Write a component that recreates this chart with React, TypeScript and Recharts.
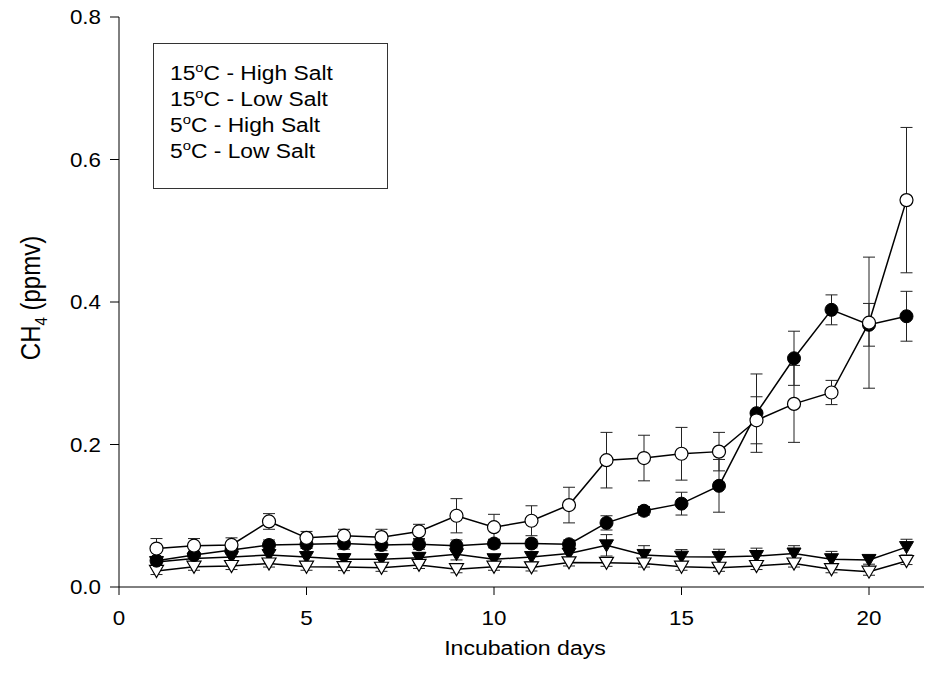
import { ErrorBar, Legend, Line, LineChart, XAxis, YAxis } from 'recharts'

const FONT = '"Liberation Sans", Arial, sans-serif'
const SX = 1.12 // the reference text is a little wider than plain Arial

const days = [1, 2, 3, 4, 5, 6, 7, 8, 9, 10, 11, 12, 13, 14, 15, 16, 17, 18, 19, 20, 21]

// 15°C - High Salt (filled circles)
const hot_high = [0.037, 0.045, 0.052, 0.059, 0.060, 0.061, 0.059, 0.060, 0.058, 0.061, 0.061, 0.060, 0.090, 0.107, 0.117, 0.142, 0.244, 0.321, 0.389, 0.368, 0.380]
const hot_high_err = [0.006, 0.005, 0.006, 0.007, 0.006, 0.008, 0.008, 0.007, 0.008, 0.006, 0.006, 0.006, 0.010, 0.006, 0.016, 0.037, 0.055, 0.038, 0.021, 0.030, 0.035]

// 15°C - Low Salt (open circles)
const hot_low = [0.054, 0.058, 0.059, 0.092, 0.069, 0.072, 0.070, 0.078, 0.100, 0.084, 0.093, 0.115, 0.178, 0.181, 0.187, 0.190, 0.234, 0.257, 0.273, 0.371, 0.543]
const hot_low_err = [0.014, 0.010, 0.010, 0.011, 0.009, 0.009, 0.011, 0.010, 0.024, 0.018, 0.021, 0.025, 0.039, 0.032, 0.037, 0.027, 0.033, 0.054, 0.017, 0.092, 0.102]

// 5°C - High Salt (filled triangles)
const cold_high = [0.035, 0.040, 0.042, 0.045, 0.042, 0.039, 0.039, 0.041, 0.046, 0.039, 0.042, 0.047, 0.0585, 0.045, 0.0425, 0.042, 0.0435, 0.047, 0.039, 0.038, 0.056]
const cold_high_err = [0.006, 0.006, 0.006, 0.006, 0.007, 0.008, 0.008, 0.007, 0.008, 0.006, 0.007, 0.007, 0.015, 0.013, 0.010, 0.011, 0.011, 0.011, 0.011, 0.006, 0.011]

// 5°C - Low Salt (open triangles)
const cold_low = [0.0225, 0.0285, 0.0295, 0.033, 0.0285, 0.028, 0.027, 0.031, 0.025, 0.0285, 0.0275, 0.0345, 0.034, 0.033, 0.0285, 0.027, 0.0295, 0.033, 0.025, 0.0215, 0.0365]
const cold_low_err = [0.005, 0.005, 0.005, 0.005, 0.005, 0.005, 0.005, 0.005, 0.005, 0.005, 0.005, 0.005, 0.005, 0.005, 0.005, 0.005, 0.005, 0.005, 0.005, 0.005, 0.005]

const legendTemps = ['15', '15', '5', '5']
const legendSalts = ['High Salt', 'Low Salt', 'High Salt', 'Low Salt']

const xTicks = [0, 5, 10, 15, 20]
const yTicks = [0, 0.2, 0.4, 0.6, 0.8]

const data = days.map((d, i) => ({
  day: d,
  hh: hot_high[i], hhErr: hot_high_err[i],
  hl: hot_low[i], hlErr: hot_low_err[i],
  ch: cold_high[i], chErr: cold_high_err[i],
  cl: cold_low[i], clErr: cold_low_err[i],
}))

const tri = (cx: number, cy: number) => `M${cx - 7},${cy - 5.5}L${cx + 7},${cy - 5.5}L${cx},${cy + 6.5}Z`

const FilledCircle = (p: any) => <circle key={`fc-${p.index}`} cx={p.cx} cy={p.cy} r={6.5} fill="#000" stroke="#000" strokeWidth={1} />
const OpenCircle = (p: any) => <circle key={`oc-${p.index}`} cx={p.cx} cy={p.cy} r={6.5} fill="#fff" stroke="#000" strokeWidth={1.2} />
const FilledTri = (p: any) => <path key={`ft-${p.index}`} d={tri(p.cx, p.cy)} fill="#000" stroke="#000" strokeWidth={1} />
const OpenTri = (p: any) => <path key={`ot-${p.index}`} d={tri(p.cx, p.cy)} fill="#fff" stroke="#000" strokeWidth={1.2} />

const YTick = ({ x, y, payload }: any) => (
  <g transform={`translate(${x},${y}) scale(${SX},1)`}>
    <text textAnchor="end" dy="0.355em" fontSize={20} fontFamily={FONT} fill="#000">{Number(payload.value).toFixed(1)}</text>
  </g>
)

const XTick = ({ x, y, payload }: any) => (
  <g transform={`translate(${x},${y}) scale(${SX},1)`}>
    <text textAnchor="middle" dy="0.71em" fontSize={20} fontFamily={FONT} fill="#000">{payload.value}</text>
  </g>
)

function LegendBox() {
  return (
    <div style={{ width: 235, height: 146, boxSizing: 'border-box', border: '1px solid #333', background: '#fff', padding: '16px 0 0 16px', fontFamily: FONT, fontSize: 20, lineHeight: '26px', color: '#000' }}>
      {legendTemps.map((t, i) => (
        <div key={i} style={{ whiteSpace: 'nowrap', transform: `scaleX(${SX + 0.02})`, transformOrigin: 'left center' }}>
          {t}<span style={{ fontSize: 13, position: 'relative', top: -8, lineHeight: 0 }}>o</span>C - {legendSalts[i]}
        </div>
      ))}
    </div>
  )
}

function YTitle() {
  return (
    <g transform={`translate(22,298) scale(${SX + 0.03},1) rotate(-90)`}>
      <text textAnchor="middle" dy="0.355em" fontSize={24} fontFamily={FONT} fill="#000">
        CH<tspan dy={6} fontSize={15}>4</tspan><tspan dy={-6}> (ppmv)</tspan>
      </text>
    </g>
  )
}

function XTitle() {
  return (
    <g transform={`translate(517,655) scale(1.1,1)`}>
      <text textAnchor="middle" fontSize={21} fontFamily={FONT} fill="#000">Incubation days</text>
    </g>
  )
}

export default function App() {
  return (
    <div style={{ width: 924, height: 680, marginTop: -8, overflow: 'hidden', position: 'relative' }}>
      <LineChart width={940} height={680} data={data} margin={{ top: 17, right: 4, bottom: 0, left: 0 }}>
        <XAxis
          dataKey="day"
          type="number"
          domain={[0, 22]}
          ticks={xTicks}
          allowDataOverflow
          height={93}
          tickSize={8}
          tickMargin={16}
          tick={<XTick />}
          axisLine={{ stroke: '#000' }}
          tickLine={{ stroke: '#000' }}
          label={{ content: () => <XTitle /> }}
        />
        <XAxis xAxisId="top" orientation="top" type="number" domain={[0, 22]} height={0} tick={false} tickLine={false} axisLine={{ stroke: '#000' }} />
        <YAxis
          type="number"
          domain={[0, 0.8]}
          ticks={yTicks}
          width={111}
          tickSize={9}
          tickMargin={9}
          tick={<YTick />}
          axisLine={{ stroke: '#000' }}
          tickLine={{ stroke: '#000' }}
          label={{ content: () => <YTitle /> }}
        />
        <Legend layout="vertical" align="center" verticalAlign="middle" wrapperStyle={{ left: 145, top: 43, width: 235, height: 146 }} content={() => <LegendBox />} />
        <Line type="linear" dataKey="ch" name="5°C - High Salt" stroke="#000" strokeWidth={1.5} dot={FilledTri} activeDot={false} isAnimationActive={false}>
          <ErrorBar dataKey="chErr" width={6} stroke="#222" strokeWidth={1} direction="y" />
        </Line>
        <Line type="linear" dataKey="cl" name="5°C - Low Salt" stroke="#000" strokeWidth={1.5} dot={OpenTri} activeDot={false} isAnimationActive={false}>
          <ErrorBar dataKey="clErr" width={6} stroke="#222" strokeWidth={1} direction="y" />
        </Line>
        <Line type="linear" dataKey="hh" name="15°C - High Salt" stroke="#000" strokeWidth={1.5} dot={FilledCircle} activeDot={false} isAnimationActive={false}>
          <ErrorBar dataKey="hhErr" width={6} stroke="#222" strokeWidth={1} direction="y" />
        </Line>
        <Line type="linear" dataKey="hl" name="15°C - Low Salt" stroke="#000" strokeWidth={1.5} dot={OpenCircle} activeDot={false} isAnimationActive={false}>
          <ErrorBar dataKey="hlErr" width={6} stroke="#222" strokeWidth={1} direction="y" />
        </Line>
      </LineChart>
    </div>
  )
}
